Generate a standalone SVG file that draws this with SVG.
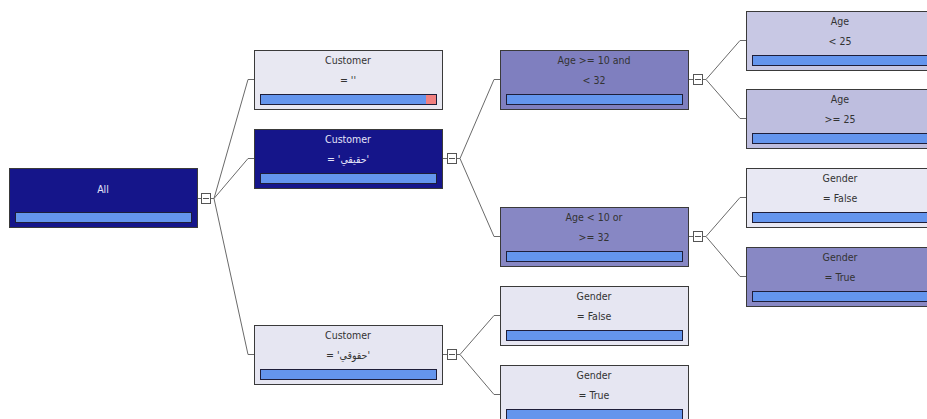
<svg xmlns="http://www.w3.org/2000/svg" width="927" height="419" viewBox="0 0 927 419">
<style>
.n{stroke:#3a3a3a;stroke-width:1}
.bar{fill:#6495ed;stroke:#1e1e3a;stroke-width:1}
.red{fill:#f08080;stroke:none}
.t{font-family:"DejaVu Sans Condensed","DejaVu Sans",sans-serif;font-stretch:condensed;font-size:10.5px;text-anchor:middle;fill:#333}
.w{fill:#e4e4f8}
.c{fill:none;stroke:#6a6a6a;stroke-width:1}
.x{fill:#fff;stroke:#555;stroke-width:1}
.m{stroke:#555;stroke-width:1}
</style>
<rect width="927" height="419" fill="#fff"/>
<g id="connectors">
<path class="c" d="M197.5,198.5H201M211,198.5H214L248,79.5H254M214,198.5L248,158.5H254M214,198.5L248,354.5H254"/>
<path class="c" d="M442.5,158.5H447M457,158.5H460L494,79.5H500M460,158.5L494,236.5H500"/>
<path class="c" d="M442.5,354.5H447M457,354.5H460L494,315.5H500M460,354.5L494,394.5H500"/>
<path class="c" d="M688.5,79.5H693M703,79.5H706L740,40.5H746M706,79.5L740,118.5H746"/>
<path class="c" d="M688.5,236.5H693M703,236.5H706L740,197.5H746M706,236.5L740,276.5H746"/>
<g id="toggles">
<rect class="x" x="201.5" y="193.5" width="9" height="10"/><path class="m" d="M203,198.5H209"/>
<rect class="x" x="447.5" y="153.5" width="9" height="10"/><path class="m" d="M449,158.5H455"/>
<rect class="x" x="447.5" y="349.5" width="9" height="10"/><path class="m" d="M449,354.5H455"/>
<rect class="x" x="693.5" y="74.5" width="9" height="10"/><path class="m" d="M695,79.5H701"/>
<rect class="x" x="693.5" y="231.5" width="9" height="10"/><path class="m" d="M695,236.5H701"/>
</g>
</g>
<g id="n-all">
<rect class="n" x="9.5" y="168.5" width="188" height="59" fill="#15158a"/>
<text class="t w" x="103" y="193">All</text>
<rect class="bar" x="15.5" y="212.5" width="176" height="10"/>
</g>
<g id="n-cust-empty">
<rect class="n" x="254.5" y="50.5" width="188" height="59" fill="#e8e8f2"/>
<text class="t" x="348" y="64">Customer</text>
<text class="t" x="348" y="84">= ''</text>
<rect class="bar" x="260.5" y="94.5" width="176" height="10"/>
<rect class="red" x="426" y="95" width="10" height="9"/>
</g>
<g id="n-cust-haqiqi">
<rect class="n" x="254.5" y="129.5" width="188" height="59" fill="#15158a"/>
<text class="t w" x="348" y="143">Customer</text>
<text class="t w" x="348" y="163">= 'حقيقي'</text>
<rect class="bar" x="260.5" y="173.5" width="176" height="10"/>
</g>
<g id="n-cust-hoquqi">
<rect class="n" x="254.5" y="325.5" width="188" height="59" fill="#e6e6f2"/>
<text class="t" x="348" y="339">Customer</text>
<text class="t" x="348" y="359">= 'حقوقي'</text>
<rect class="bar" x="260.5" y="369.5" width="176" height="10"/>
</g>
<g id="n-age-in">
<rect class="n" x="500.5" y="50.5" width="188" height="59" fill="#7f7fbf"/>
<text class="t" x="594" y="64">Age &gt;= 10 and</text>
<text class="t" x="594" y="84">&lt; 32</text>
<rect class="bar" x="506.5" y="94.5" width="176" height="10"/>
</g>
<g id="n-age-out">
<rect class="n" x="500.5" y="207.5" width="188" height="59" fill="#8787c4"/>
<text class="t" x="594" y="221">Age &lt; 10 or</text>
<text class="t" x="594" y="241">&gt;= 32</text>
<rect class="bar" x="506.5" y="251.5" width="176" height="10"/>
</g>
<g id="n-gender-false-2">
<rect class="n" x="500.5" y="286.5" width="188" height="59" fill="#e6e6f2"/>
<text class="t" x="594" y="300">Gender</text>
<text class="t" x="594" y="320">= False</text>
<rect class="bar" x="506.5" y="330.5" width="176" height="10"/>
</g>
<g id="n-gender-true-2">
<rect class="n" x="500.5" y="365.5" width="188" height="59" fill="#e6e6f2"/>
<text class="t" x="594" y="379">Gender</text>
<text class="t" x="594" y="399">= True</text>
<rect class="bar" x="506.5" y="409.5" width="176" height="10"/>
</g>
<g id="n-age-lt25">
<rect class="n" x="746.5" y="11.5" width="188" height="59" fill="#c8c8e4"/>
<text class="t" x="840" y="25">Age</text>
<text class="t" x="840" y="45">&lt; 25</text>
<rect class="bar" x="752.5" y="55.5" width="176" height="10"/>
</g>
<g id="n-age-ge25">
<rect class="n" x="746.5" y="89.5" width="188" height="59" fill="#bebedf"/>
<text class="t" x="840" y="103">Age</text>
<text class="t" x="840" y="123">&gt;= 25</text>
<rect class="bar" x="752.5" y="133.5" width="176" height="10"/>
</g>
<g id="n-gender-false-1">
<rect class="n" x="746.5" y="168.5" width="188" height="59" fill="#e8e8f3"/>
<text class="t" x="840" y="182">Gender</text>
<text class="t" x="840" y="202">= False</text>
<rect class="bar" x="752.5" y="212.5" width="176" height="10"/>
</g>
<g id="n-gender-true-1">
<rect class="n" x="746.5" y="247.5" width="188" height="59" fill="#8888c4"/>
<text class="t" x="840" y="261">Gender</text>
<text class="t" x="840" y="281">= True</text>
<rect class="bar" x="752.5" y="291.5" width="176" height="10"/>
</g>
</svg>
